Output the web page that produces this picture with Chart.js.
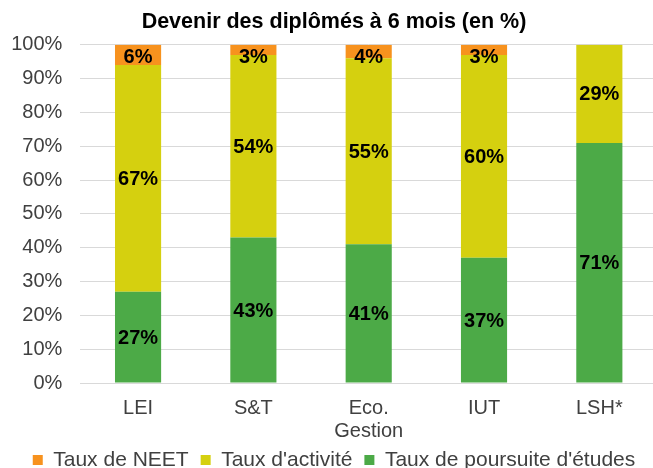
<!DOCTYPE html>
<html><head><meta charset="utf-8">
<script src="https://cdn.jsdelivr.net/npm/chart.js@4.4.1/dist/chart.umd.min.js"></script>
<style>html,body{margin:0;padding:0;overflow:hidden;background:#fff}#wrap{width:657px;height:468px;position:relative}</style>
</head><body><div id="wrap"><canvas id="c"></canvas></div>
<script>
const categories = [['LEI'], ['S&T'], ['Eco.', 'Gestion'], ['IUT'], ['LSH*']];
const neet = [6, 3, 4, 3, 0];
const activite = [67, 54, 55, 60, 29];
const poursuite = [27, 43, 41, 37, 71];
const yTickValues = [0, 10, 20, 30, 40, 50, 60, 70, 80, 90, 100];
const seriesNames = ["Taux de NEET", "Taux d'activité", "Taux de poursuite d'études"];

const FONT = "'Liberation Sans', Arial, sans-serif";

const labelPlugin = {
  id: 'segLabels',
  afterDatasetsDraw(chart) {
    const ctx = chart.ctx;
    const top = chart.chartArea.top;
    ctx.save();
    ctx.font = 'bold 20px ' + FONT;
    ctx.fillStyle = '#000';
    ctx.textAlign = 'center';
    ctx.textBaseline = 'middle';
    chart.data.datasets.forEach((ds, di) => {
      const meta = chart.getDatasetMeta(di);
      meta.data.forEach((bar, i) => {
        const v = ds.data[i];
        if (!v) return;
        let y = (bar.y + bar.base) / 2;
        y = Math.max(y, top + 12);
        ctx.fillText(v + '%', bar.x, y + 1);
      });
    });
    ctx.restore();
  }
};

new Chart(document.getElementById('c'), {
  type: 'bar',
  data: {
    labels: categories,
    datasets: [
      { label: seriesNames[2], data: poursuite, backgroundColor: '#4CAA47' },
      { label: seriesNames[1], data: activite, backgroundColor: '#D5D00F' },
      { label: seriesNames[0], data: neet, backgroundColor: '#F7921E' }
    ]
  },
  options: {
    responsive: true,
    maintainAspectRatio: false,
    animation: false,
    layout: { padding: { left: 11, right: 0, top: 0, bottom: -12.5 } },
    datasets: { bar: { categoryPercentage: 1.0, barPercentage: 0.4 } },
    scales: {
      x: {
        stacked: true,
        afterFit(scale) { scale.height = 54.5; },
        grid: { display: false, drawTicks: false },
        border: { display: true, color: '#d9d9d9' },
        ticks: { color: '#404040', font: { family: FONT, size: 20, lineHeight: 1.15 }, padding: 14, maxRotation: 0, autoSkip: false }
      },
      y: {
        stacked: true,
        min: 0, max: 100,
        afterBuildTicks(scale) { scale.ticks = yTickValues.map(v => ({ value: v })); },
        afterFit(scale) { scale.width = 69.4; },
        grid: { color: '#d9d9d9', drawTicks: false },
        border: { display: false },
        ticks: { color: '#404040', font: { family: FONT, size: 20 }, padding: 18, callback: v => v + '%' }
      }
    },
    plugins: {
      title: {
        display: true,
        text: 'Devenir des diplômés à 6 mois (en %)',
        color: '#000',
        font: { family: FONT, size: 21.5, weight: 'bold', lineHeight: 1.2 },
        padding: { top: 9, bottom: 10 }
      },
      legend: {
        position: 'bottom',
        reverse: true,
        labels: { color: '#404040', boxWidth: 10, boxHeight: 10, padding: 12, font: { family: FONT, size: 21 } }
      },
      tooltip: { enabled: false }
    }
  },
  plugins: [labelPlugin]
});
</script>
</body></html>
